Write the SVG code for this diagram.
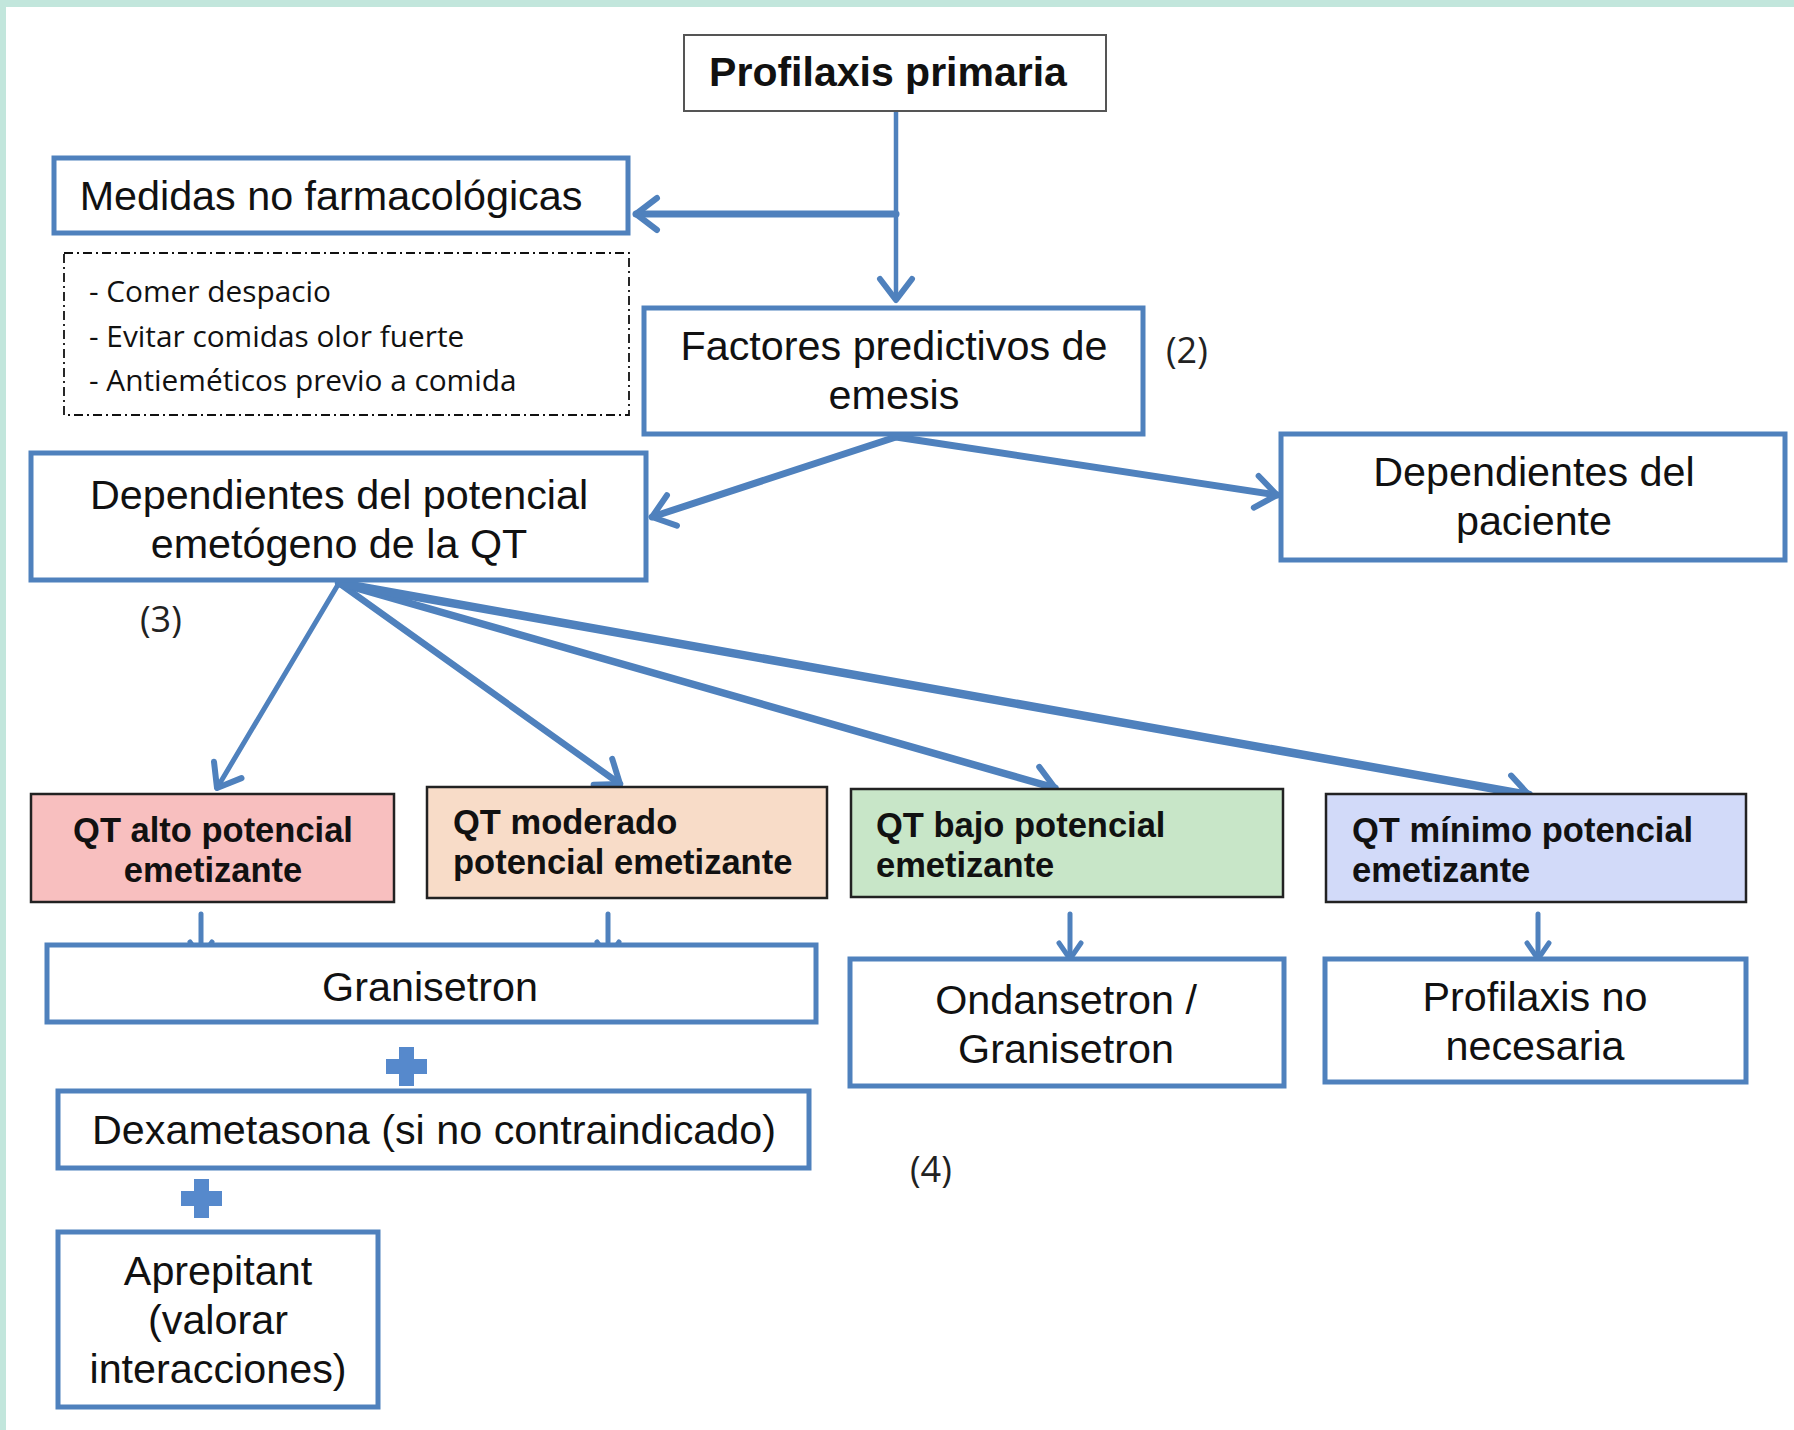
<svg xmlns="http://www.w3.org/2000/svg" width="1794" height="1430" viewBox="0 0 1794 1430">
<defs>
<style>
.bx{fill:#fff;stroke:#4f81bd;stroke-width:5}
.gx{fill:#fff;stroke:#555;stroke-width:2}
.qt{stroke:#222;stroke-width:2.5}
.t{font-family:"Liberation Sans",Arial,sans-serif;font-size:41.3px;fill:#111;text-anchor:middle}
.tb{font-family:"Liberation Sans",Arial,sans-serif;font-weight:bold;fill:#111}
.q{font-family:"Liberation Sans",Arial,sans-serif;font-weight:bold;font-size:34.5px;fill:#111}
.n{font-family:"Open Sans","Noto Sans",sans-serif;font-size:29.8px;fill:#111}
.nt{font-family:"Open Sans","Noto Sans",sans-serif;font-size:36px;fill:#222}
.c{fill:none;stroke:#4f81bd;stroke-linecap:round;stroke-linejoin:round}
.plus{fill:#5689cc}
</style>
<marker id="ah" markerUnits="userSpaceOnUse" markerWidth="50" markerHeight="50" viewBox="-30 -25 40 50" refX="0" refY="0" orient="auto" overflow="visible">
<path d="M-21,-16 L0,0 L-21,16" fill="none" stroke="#4f81bd" stroke-width="6" stroke-linecap="round" stroke-linejoin="round"/>
</marker>
<marker id="ahs" markerUnits="userSpaceOnUse" markerWidth="40" markerHeight="40" viewBox="-20 -20 30 40" refX="0" refY="0" orient="auto" overflow="visible">
<path d="M-16,-11 L0,0 L-16,11" fill="none" stroke="#4f81bd" stroke-width="5" stroke-linecap="round" stroke-linejoin="round"/>
</marker>
</defs>
<rect x="0" y="0" width="1794" height="1430" fill="#fff"/>
<rect x="0" y="0" width="1794" height="7" fill="#c2e6dc"/>
<rect x="0" y="0" width="6" height="1430" fill="#c2e6dc"/>

<g id="connectors">
<path class="c" d="M896,111 L896,300" stroke-width="4.5" marker-end="url(#ah)"/>
<path class="c" d="M896,214 L636,214" stroke-width="7" marker-end="url(#ah)"/>
<path class="c" d="M896,437 L652,517" stroke-width="7" marker-end="url(#ah)"/>
<path class="c" d="M896,437 L1277,495" stroke-width="7" marker-end="url(#ah)"/>
<path class="c" d="M339,583 L217,788" stroke-width="5" marker-end="url(#ah)"/>
<path class="c" d="M339,583 L620,784" stroke-width="6.5" marker-end="url(#ah)"/>
<path class="c" d="M339,583 L1055,788" stroke-width="7.5" marker-end="url(#ah)"/>
<path class="c" d="M339,583 L1529,795" stroke-width="8.5" marker-end="url(#ah)"/>
<path class="c" d="M201,914 L201,958" stroke-width="5" marker-end="url(#ahs)"/>
<path class="c" d="M608,914 L608,958" stroke-width="5" marker-end="url(#ahs)"/>
<path class="c" d="M1070,914 L1070,959" stroke-width="5" marker-end="url(#ahs)"/>
<path class="c" d="M1538,914 L1538,959" stroke-width="5" marker-end="url(#ahs)"/>
</g>

<g id="profilaxis-primaria">
<rect class="gx" x="684" y="35" width="422" height="76"/>
<text class="tb" x="888" y="86" font-size="41" text-anchor="middle">Profilaxis primaria</text>
</g>

<g id="medidas">
<rect class="bx" x="54" y="158" width="574" height="75"/>
<text class="t" x="331" y="210">Medidas no farmacológicas</text>
</g>

<g id="medidas-lista">
<rect x="64" y="253" width="565" height="162" fill="none" stroke="#111" stroke-width="1.8" stroke-dasharray="9,4,2,4"/>
<text class="n" x="89" y="302">- Comer despacio</text>
<text class="n" x="89" y="347">- Evitar comidas olor fuerte</text>
<text class="n" x="89" y="391">- Antieméticos previo a comida</text>
</g>

<g id="factores">
<rect class="bx" x="644" y="308" width="499" height="126"/>
<text class="t" x="894" y="360">Factores predictivos de</text>
<text class="t" x="894" y="409">emesis</text>
</g>
<g id="nota-2"><text class="nt" x="1166" y="363">(2)</text></g>

<g id="dep-potencial">
<rect class="bx" x="31" y="453" width="615" height="127"/>
<text class="t" x="339" y="509">Dependientes del potencial</text>
<text class="t" x="339" y="558">emetógeno de la QT</text>
</g>

<g id="dep-paciente">
<rect class="bx" x="1281" y="434" width="504" height="126"/>
<text class="t" x="1534" y="486">Dependientes del</text>
<text class="t" x="1534" y="535">paciente</text>
</g>
<g id="nota-3"><text class="nt" x="140" y="632">(3)</text></g>

<g id="qt-alto">
<rect class="qt" x="31" y="794" width="363" height="108" fill="#f8bfbf"/>
<text class="q" x="213" y="842" text-anchor="middle">QT alto potencial</text>
<text class="q" x="213" y="882" text-anchor="middle">emetizante</text>
</g>

<g id="qt-moderado">
<rect class="qt" x="427" y="787" width="400" height="111" fill="#f8dcc8"/>
<text class="q" x="453" y="834">QT moderado</text>
<text class="q" x="453" y="874">potencial emetizante</text>
</g>

<g id="qt-bajo">
<rect class="qt" x="851" y="789" width="432" height="108" fill="#c8e6c8"/>
<text class="q" x="876" y="837">QT bajo potencial</text>
<text class="q" x="876" y="877">emetizante</text>
</g>

<g id="qt-minimo">
<rect class="qt" x="1326" y="794" width="420" height="108" fill="#d2daf9"/>
<text class="q" x="1352" y="842">QT mínimo potencial</text>
<text class="q" x="1352" y="882">emetizante</text>
</g>

<g id="granisetron">
<rect class="bx" x="47" y="945" width="769" height="77"/>
<text class="t" x="430" y="1001">Granisetron</text>
</g>

<g id="plus-1">
<path class="plus" d="M399,1047 h15 v12 h13 v15 h-13 v12 h-15 v-12 h-13 v-15 h13 z"/>
</g>

<g id="dexametasona">
<rect class="bx" x="58" y="1091" width="751" height="77"/>
<text class="t" x="434" y="1144">Dexametasona (si no contraindicado)</text>
</g>

<g id="plus-2">
<path class="plus" d="M194,1179 h15 v12 h13 v15 h-13 v12 h-15 v-12 h-13 v-15 h13 z"/>
</g>

<g id="aprepitant">
<rect class="bx" x="58" y="1232" width="320" height="175"/>
<text class="t" x="218" y="1285">Aprepitant</text>
<text class="t" x="218" y="1334">(valorar</text>
<text class="t" x="218" y="1383">interacciones)</text>
</g>

<g id="ondansetron">
<rect class="bx" x="850" y="959" width="434" height="127"/>
<text class="t" x="1066" y="1014">Ondansetron /</text>
<text class="t" x="1066" y="1063">Granisetron</text>
</g>

<g id="profilaxis-no">
<rect class="bx" x="1325" y="959" width="421" height="123"/>
<text class="t" x="1535" y="1011">Profilaxis no</text>
<text class="t" x="1535" y="1060">necesaria</text>
</g>

<g id="nota-4"><text class="nt" x="910" y="1182">(4)</text></g>
</svg>
